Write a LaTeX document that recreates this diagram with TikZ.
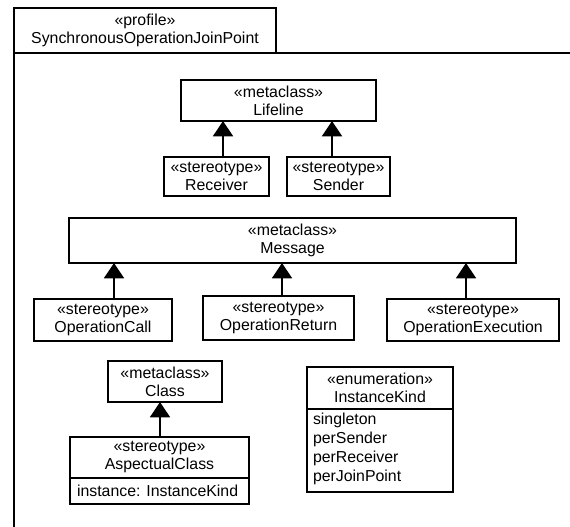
\documentclass[tikz,border=0pt]{standalone}
\usepackage{fontspec}
\setmainfont{Liberation Sans}
\usetikzlibrary{arrows.meta}
\tikzset{
  umlfont/.style={font=\fontsize{11.9}{13.5}\selectfont},
  box/.style={draw, line width=1.4pt, inner sep=0pt, outer sep=0pt, align=center, umlfont},
  frameline/.style={line width=1.4pt},
  txt/.style={inner sep=0pt, outer sep=0pt, umlfont},
  gen/.style={line width=1.4pt, -{Triangle[width=15pt,length=11.5pt]}},
}
% \umlbox{name}{left}{top}{right}{bottom}{text}, coordinates in pixels
\newcommand\umlbox[6]{%
  \node[box, anchor=north west,
        minimum width={(#4-#2)*0.75pt}, minimum height={(#5-#3)*0.75pt}]
        (#1) at (#2,#3) {#6};}
\begin{document}
\begin{tikzpicture}[x=0.75pt,y=-0.75pt]
\useasboundingbox (0,0) rectangle (570,527);

% profile frame with its name tab
\umlbox{tab}{14}{8}{276}{53}{«profile»\\SynchronousOperationJoinPoint}
\coordinate (frameRight) at (570,53);
\coordinate (frameBottom) at (14,527);
\draw[frameline] (tab.south west) -- (frameRight);
\draw[frameline] (tab.south west) -- (frameBottom);

% Lifeline and its stereotypes
\umlbox{life}{181}{80}{376}{121}{«metaclass»\\Lifeline}
\umlbox{recv}{164}{157}{269}{196}{«stereotype»\\Receiver}
\umlbox{send}{287}{157}{390}{196}{«stereotype»\\Sender}

% Message and its stereotypes
\umlbox{msg}{69}{218}{516}{263}{«metaclass»\\Message}
\umlbox{call}{34}{299}{172}{341}{«stereotype»\\OperationCall}
\umlbox{ret}{203}{296}{354}{340}{«stereotype»\\OperationReturn}
\umlbox{exec}{387}{299}{559}{341}{«stereotype»\\OperationExecution}

% Class and the aspectual stereotype
\umlbox{cls}{108}{361}{222}{402}{«metaclass»\\Class}
\umlbox{asp}{70}{437}{249}{478}{«stereotype»\\AspectualClass}
\umlbox{aspAttr}{70}{478}{249}{504}{}
\node[txt, anchor=west] (aspAttrText) at (77,491) {instance: InstanceKind};

% enumeration of instance kinds
\umlbox{ik}{307}{367}{453}{409}{«enumeration»\\InstanceKind}
\umlbox{ikLits}{307}{409}{453}{492}{}
\node[txt, anchor=north west, align=left, font=\fontsize{11.9}{14.2}\selectfont]
  (ikText) at (313,413) {singleton\\perSender\\perReceiver\\perJoinPoint};

% generalization arrows
\coordinate (xRecv) at (223,0);
\coordinate (xSend) at (332,0);
\coordinate (xCall) at (114,0);
\coordinate (xRet)  at (282,0);
\coordinate (xExec) at (466,0);
\coordinate (xAsp)  at (160,0);
\draw[gen] (recv.north -| xRecv) -- (life.south -| xRecv);
\draw[gen] (send.north -| xSend) -- (life.south -| xSend);
\draw[gen] (call.north -| xCall) -- (msg.south -| xCall);
\draw[gen] (ret.north -| xRet)   -- (msg.south -| xRet);
\draw[gen] (exec.north -| xExec) -- (msg.south -| xExec);
\draw[gen] (asp.north -| xAsp)   -- (cls.south -| xAsp);
\end{tikzpicture}
\end{document}
